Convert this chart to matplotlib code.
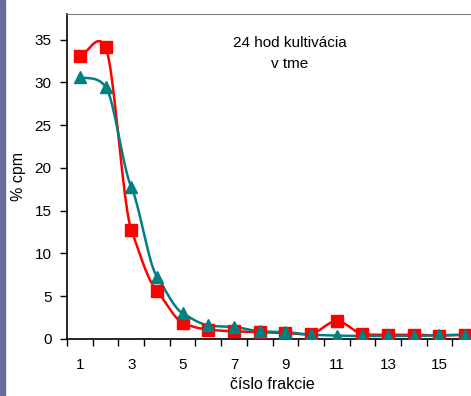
import numpy as np
import matplotlib
matplotlib.use('Agg')
import matplotlib.pyplot as plt
from matplotlib.patches import Rectangle

plt.rcParams['font.family'] = ['Liberation Sans', 'DejaVu Sans']

# fraction numbers and % cpm for the two series
frakcie = np.arange(1, 17)
red_vals = [33.1, 34.1, 12.8, 5.6, 1.9, 1.1, 0.9, 0.8, 0.7, 0.6, 2.1, 0.6, 0.5, 0.5, 0.4, 0.5]
teal_vals = [30.6, 29.5, 17.8, 7.3, 3.0, 1.6, 1.4, 0.9, 0.8, 0.5, 0.4, 0.35, 0.35, 0.35, 0.45, 0.5]
x_labels = ['1', '3', '5', '7', '9', '11', '13', '15']


def smooth(x, y, n=20, s=0.6):
    # hermite curve through the points, tangents scaled by s (softer than catmull-rom)
    x = np.asarray(x, float)
    y = np.asarray(y, float)
    t = np.linspace(0, 1, n, endpoint=False)
    h00 = 2 * t ** 3 - 3 * t ** 2 + 1
    h10 = t ** 3 - 2 * t ** 2 + t
    h01 = -2 * t ** 3 + 3 * t ** 2
    h11 = t ** 3 - t ** 2
    dy = np.gradient(y) * s
    xs, ys = [], []
    for i in range(len(x) - 1):
        xs.extend(x[i] + (x[i + 1] - x[i]) * t)
        ys.extend(h00 * y[i] + h10 * dy[i] + h01 * y[i + 1] + h11 * dy[i + 1])
    xs.append(x[-1])
    ys.append(y[-1])
    return np.array(xs), np.array(ys)


fig = plt.figure(figsize=(4.71, 3.96), dpi=100)
fig.patches.append(Rectangle((0, 0), 5 / 471, 1, transform=fig.transFigure,
                             color='#6b6b9e', zorder=0))
ax = fig.add_axes([67 / 471, 57 / 396, 411 / 471, 325 / 396])

sx, sy = smooth(frakcie, red_vals)
ax.plot(sx, sy, color='#ff0000', lw=1.8, zorder=2)
ax.plot(frakcie, red_vals, 's', color='#ff0000', ms=8, zorder=3)
sx, sy = smooth(frakcie, teal_vals)
ax.plot(sx, sy, color='#008080', lw=1.8, zorder=2)
ax.plot(frakcie, teal_vals, '^', color='#008080', ms=8, zorder=4)

ax.set_xlim(0.5, 16.5)
ax.set_ylim(0, 38)
ax.set_yticks(range(0, 36, 5))
ax.set_xticks(np.arange(0.5, 17, 1))
ax.set_xticklabels([])
ax.set_xticks(range(1, 16, 2), minor=True)
ax.set_xticklabels(x_labels, minor=True)
ax.tick_params(axis='x', which='minor', length=0, pad=14, labelsize=11)
ax.tick_params(axis='x', which='major', length=5, direction='out', width=1)
ax.tick_params(axis='y', length=5, direction='out', width=1, labelsize=11, pad=6)

ax.spines['right'].set_visible(False)
ax.spines['top'].set_color('#808080')
ax.spines['left'].set_linewidth(1.2)
ax.spines['bottom'].set_linewidth(1.2)

ax.set_xlabel('číslo frakcie', fontsize=11.5, labelpad=3)
ax.set_ylabel('% cpm', fontsize=11.5, labelpad=6)
fig.text(290 / 471, 1 - 43 / 396, '24 hod kultivácia', ha='center', va='center', fontsize=11)
fig.text(290 / 471, 1 - 64 / 396, 'v tme', ha='center', va='center', fontsize=11)

fig.savefig('out.png', dpi=100)
